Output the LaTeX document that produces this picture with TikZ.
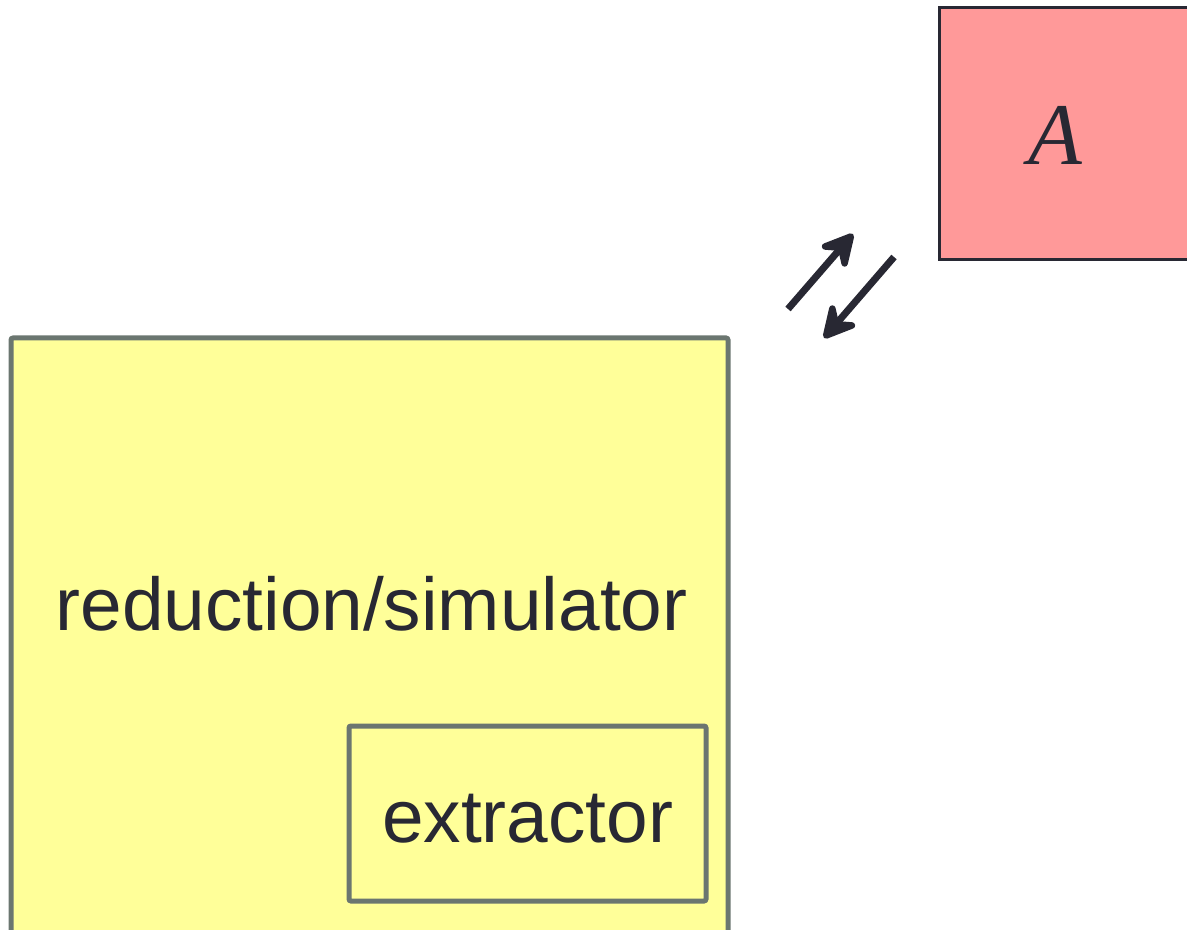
\documentclass[tikz,border=0pt]{standalone}
\usepackage{fontspec}
\setmainfont{Liberation Sans}
\newfontfamily\seriffont{Liberation Serif}
\usetikzlibrary{arrows.meta}
\definecolor{ink}{HTML}{282833}
\definecolor{yel}{HTML}{FFFF99}
\definecolor{pinkA}{HTML}{FF9999}
\definecolor{gborder}{HTML}{6B7670}
\tikzset{
  yelbox/.style={draw=gborder, line width=2.5pt, fill=yel, rounded corners=1pt, inner sep=0pt},
  abox/.style={draw=ink, line width=1.5pt, fill=pinkA, inner sep=0pt},
  lbl/.style={text=ink, font=\fontsize{37.4}{44}\selectfont, inner sep=0pt},
  flow/.style={draw=ink, line width=3.5pt, line cap=butt, arrows={-Stealth[round, length=21pt, width=22pt, inset=8pt]}}
}
\begin{document}
\begin{tikzpicture}[x=0.5pt, y=-0.5pt]
\useasboundingbox (0,0) rectangle (1187,930);
\clip (0,0) rectangle (1187,930);
\node[yelbox, minimum width=358.5pt, minimum height=331pt] (big) at (369.5,669) {};
\node[lbl, anchor=base] (bigtext) at (371.5,630) {reduction/simulator};
\node[yelbox, minimum width=178.5pt, minimum height=87.5pt] (ext) at (527.5,813.5) {};
\node[lbl, anchor=base] (exttext) at (527.5,842) {extractor};
\node[abox, minimum width=155pt, minimum height=126pt] (A) at (1094.5,134) {};
\node[text=ink, inner sep=0pt, anchor=base, font=\seriffont\itshape\fontsize{44}{50}\selectfont] (Atext) at (1055,165) {A};
\coordinate (u1) at (788,309);
\coordinate (u2) at (853,234);
\coordinate (d1) at (894,257);
\coordinate (d2) at (824,338);
\draw[flow] (u1) -- (u2);
\draw[flow] (d1) -- (d2);
\end{tikzpicture}
\end{document}
